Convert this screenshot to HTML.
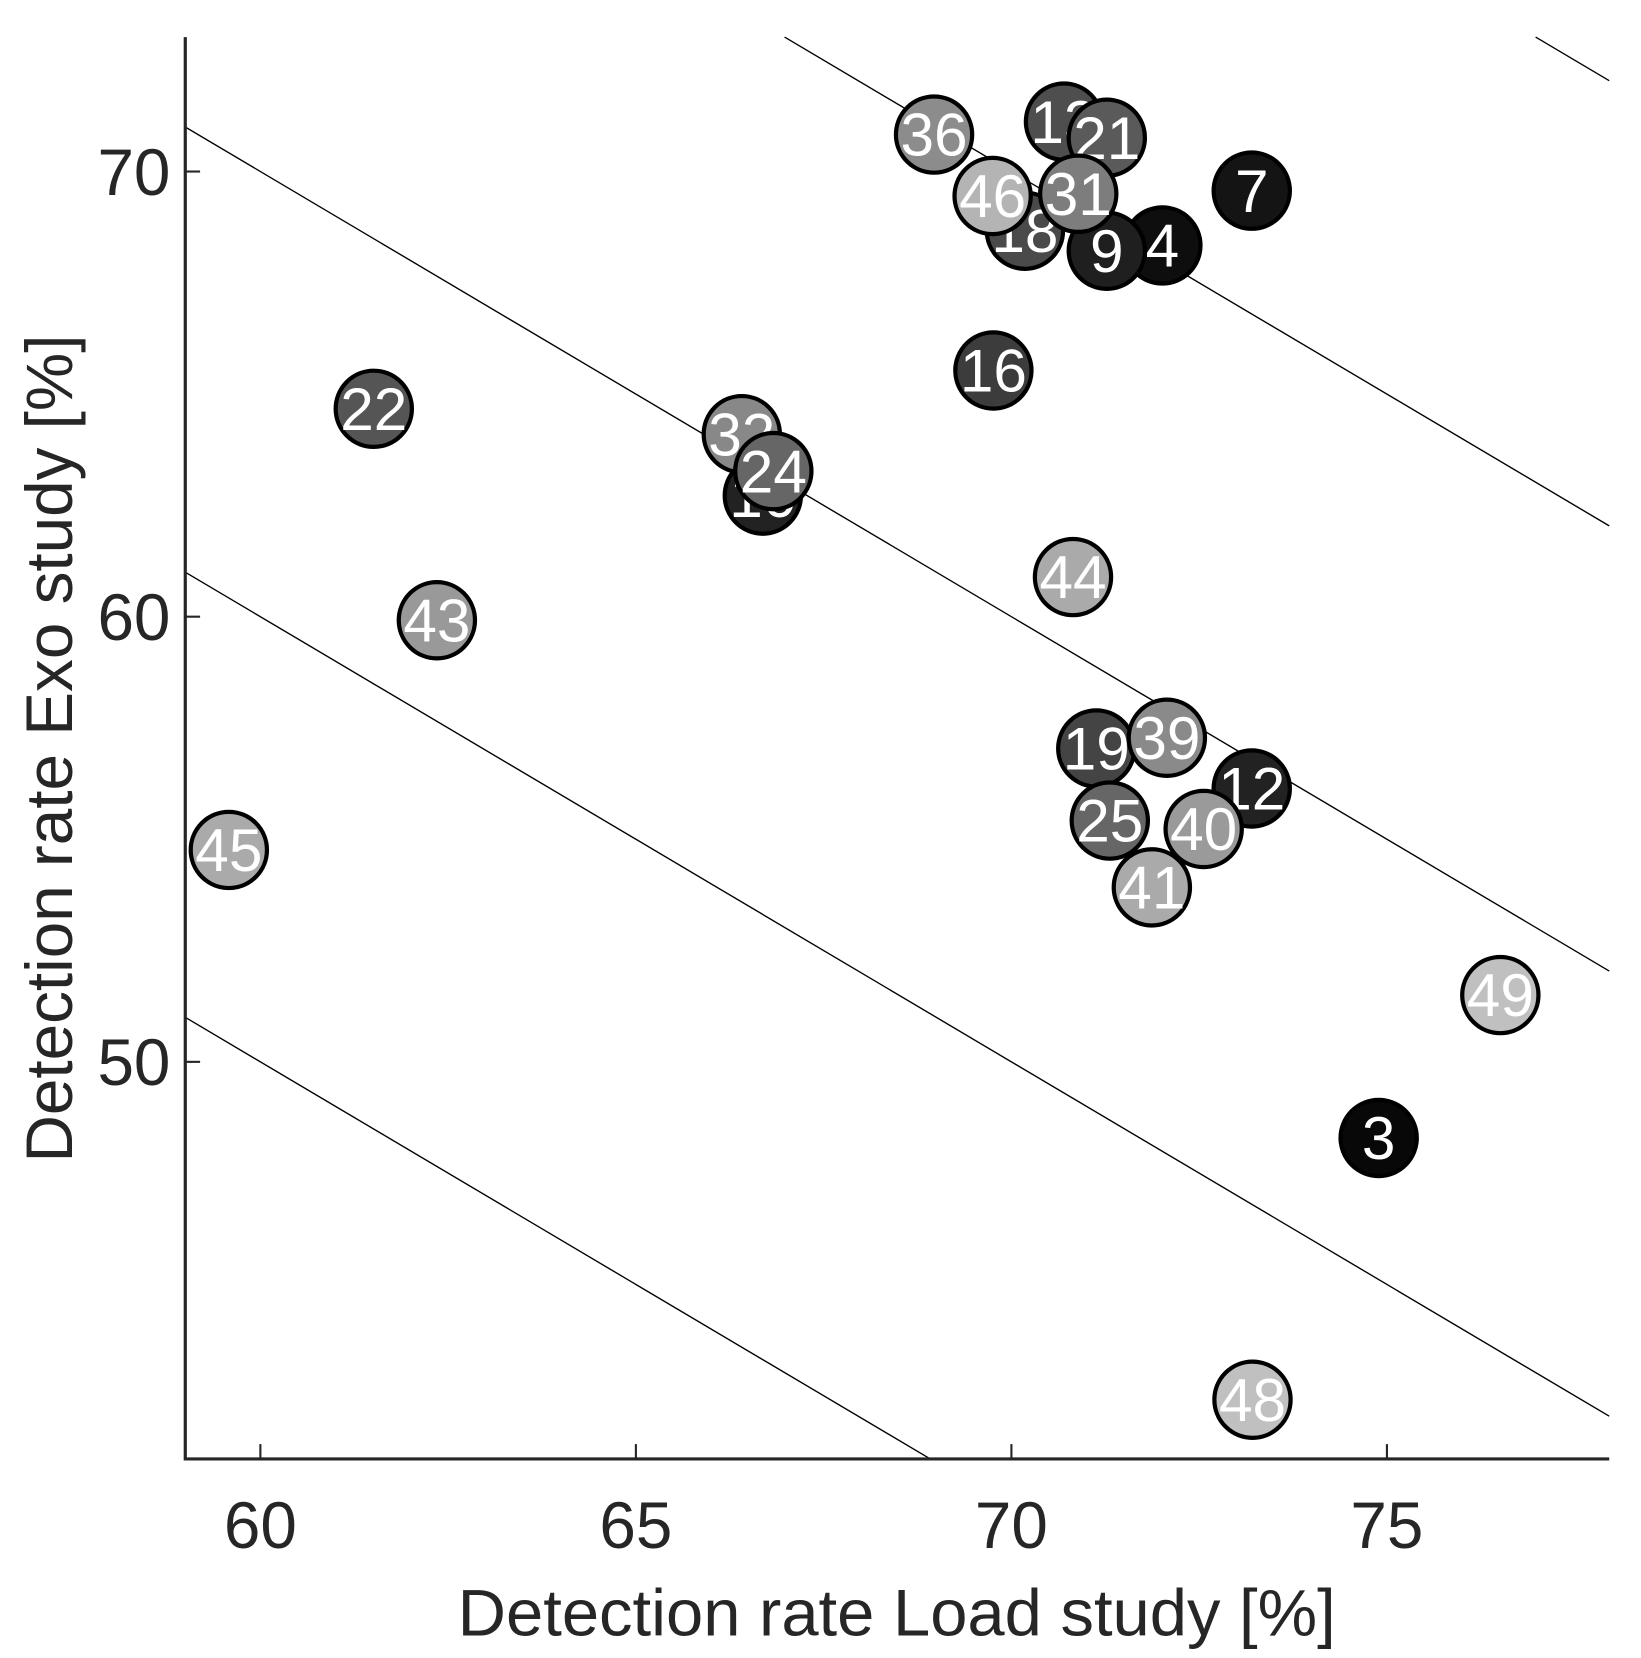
<!DOCTYPE html>
<html><head><meta charset="utf-8"><style>html,body{margin:0;padding:0;background:#fff}svg{display:block}</style></head>
<body>
<svg id="chart" width="1641" height="1658" viewBox="0 0 1550 1566" xmlns="http://www.w3.org/2000/svg" font-family="Liberation Sans, sans-serif">
<g id="lines"></g>
<g id="points"></g>
<g id="axes"></g>
<text x="847" y="1545" font-size="62" fill="#262626" text-anchor="middle" transform="translate(847,0) scale(1.02,1) translate(-847,0)">Detection rate Load study [%]</text>
<text transform="translate(68,707) rotate(-90)" font-size="62" fill="#262626" text-anchor="middle">Detection rate Exo study [%]</text>
</svg>
<script>
const labels = ["36","13","21","18","4","9","46","31","7","16","22","32","10","24","44","43","19","39","12","25","40","41","45","49","3","48"];
const xVals = [68.97,70.70,71.27,70.18,72.01,71.27,69.75,70.89,73.20,69.76,61.51,66.41,66.69,66.83,70.82,62.35,71.13,72.07,73.20,71.31,72.56,71.87,59.58,76.51,74.89,73.21];
const yVals = [70.83,71.12,70.76,68.67,68.34,68.22,69.45,69.50,69.57,65.53,64.67,64.10,62.72,63.27,60.89,59.92,57.04,57.28,56.14,55.42,55.23,53.92,54.76,51.50,48.29,42.41];
const grays = ["#8c8c8c","#4e4e4e","#5a5a5a","#4a4a4a","#0e0e0e","#1f1f1f","#b4b4b4","#7d7d7d","#141414","#3c3c3c","#555555","#888888","#222222","#666666","#aaaaaa","#999999","#444444","#8a8a8a","#222222","#666666","#9a9a9a","#aaaaaa","#aaaaaa","#c0c0c0","#080808","#c0c0c0"];
const lineSums = [110,120,130,140,150];
const xTicks = [60,65,70,75];
const yTicks = [50,60,70];
const XMIN=59.0, XMAX=77.96, YMIN=41.08, YMAX=73.02;
const L=175,R=1520,T=35,B=1378;
const sx=v=>L+(v-XMIN)/(XMAX-XMIN)*(R-L);
const sy=v=>B-(v-YMIN)/(YMAX-YMIN)*(B-T);
const NS="http://www.w3.org/2000/svg";
function mk(t,a,p){const e=document.createElementNS(NS,t);for(const k in a)e.setAttribute(k,a[k]);p.appendChild(e);return e;}
const gl=document.getElementById('lines');
lineSums.forEach(s=>{
  let pts=[];
  const cand=[[XMIN,s-XMIN],[XMAX,s-XMAX],[s-YMIN,YMIN],[s-YMAX,YMAX]];
  cand.forEach(c=>{if(c[0]>=XMIN-1e-9&&c[0]<=XMAX+1e-9&&c[1]>=YMIN-1e-9&&c[1]<=YMAX+1e-9)pts.push(c);});
  if(pts.length<2)return;
  const l=mk('line',{x1:sx(pts[0][0]),y1:sy(pts[0][1]),x2:sx(pts[1][0]),y2:sy(pts[1][1]),stroke:'#000','stroke-width':1.3},gl);
  
  
});
const gp=document.getElementById('points');
labels.forEach((lb,i)=>{
  const g=mk('g',{},gp);
  
  
  const cx=sx(xVals[i]),cy=sy(yVals[i]);
  mk('circle',{cx:cx,cy:cy,r:36,fill:grays[i],stroke:'#000','stroke-width':4},g);
  const t=mk('text',{x:cx,y:cy+20,'font-size':57,fill:'#fff','text-anchor':'middle'},g);
  t.textContent=lb;
});
const ga=document.getElementById('axes');
mk('path',{d:`M${L},${T}V${B}H${R}`,fill:'none',stroke:'#262626','stroke-width':3},ga);
xTicks.forEach(v=>{
  mk('line',{x1:sx(v),y1:B,x2:sx(v),y2:B-14,stroke:'#262626','stroke-width':2},ga);
  const t=mk('text',{x:sx(v),y:B+84,'font-size':62,fill:'#262626','text-anchor':'middle'},ga);
  
  
  t.textContent=v;
});
yTicks.forEach(v=>{
  mk('line',{x1:L,y1:sy(v),x2:L+14,y2:sy(v),stroke:'#262626','stroke-width':2},ga);
  const t=mk('text',{x:L-14,y:sy(v)+22,'font-size':62,fill:'#262626','text-anchor':'end'},ga);
  
  
  t.textContent=v;
});
</script>
</body></html>
